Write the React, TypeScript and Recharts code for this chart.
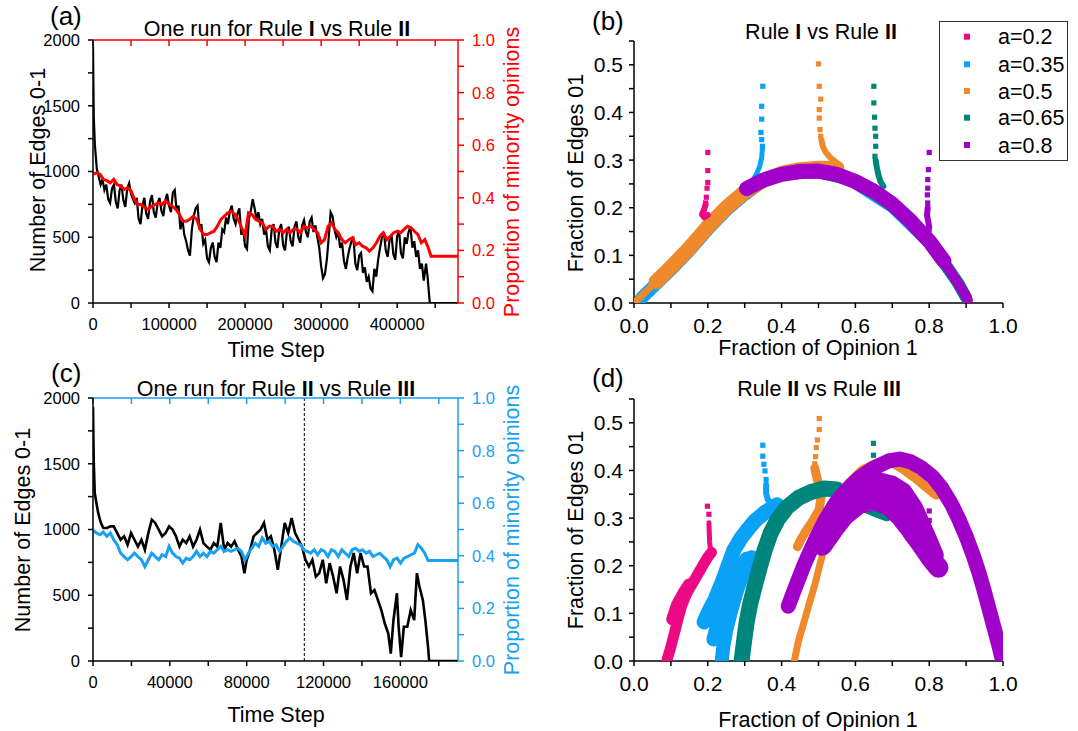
import React from 'react';
import { LineChart, Line, XAxis, YAxis, ReferenceLine, ComposedChart, Scatter } from 'recharts';

const FONT = "'Liberation Sans', Arial, Helvetica, sans-serif";
const RED = '#ff0000';
const SKY = '#18a0f2';
const PINK = '#ec0a84';
const BLUE = '#0aa2f7';
const ORANGE = '#f0892b';
const TEAL = '#00857c';
const PURPLE = '#a000c8';

type Pt = [number, number];

// ---------- (a) one run for Rule I vs Rule II ----------
// time steps in thousands
const edgeStepsA = [
  0, 1, 2.5, 5, 7.5, 10,
  12.5, 15, 17.5, 20, 22.5, 25, 27.5, 30, 32.5, 35, 37.5, 40, 42.5, 45, 47.5, 50,
  52.5, 55, 57.5, 60, 62.5, 65, 67.5, 70, 72.5, 75, 77.5, 80, 82.5, 85, 87.5, 90, 92.5, 95, 97.5, 100,
  102.5, 105, 107.5, 110, 112.5, 115, 117.5, 120, 122.5, 125, 127.5, 130, 132.5, 135, 137.5, 140, 142.5, 145, 147.5, 150,
  152.5, 155, 157.5, 160, 162.5, 165, 167.5, 170, 172.5, 175, 177.5, 180, 182.5, 185, 187.5, 190, 192.5, 195, 197.5, 200,
  202.5, 205, 207.5, 210, 212.5, 215, 217.5, 220, 222.5, 225, 227.5, 230, 232.5, 235, 237.5, 240, 242.5, 245, 247.5, 250,
  252.5, 255, 257.5, 260, 262.5, 265, 267.5, 270, 272.5, 275, 277.5, 280, 282.5, 285, 287.5, 290, 292.5, 295, 297.5, 300,
  302.5, 305, 307.5, 310, 312.5, 315, 317.5, 320, 322.5, 325, 327.5, 330, 332.5, 335, 337.5, 340, 342.5, 345, 347.5, 350,
  352.5, 355, 357.5, 360, 362.5, 365, 367.5, 370, 372.5, 375, 377.5, 380, 382.5, 385, 387.5, 390, 392.5, 395, 397.5, 400,
  402.5, 405, 407.5, 410, 412.5, 415, 417.5, 420, 422.5, 425, 427.5, 430, 432.5, 435,
  438, 440, 442, 443, 480,
];
const edgesA = [
  1950, 1420, 1200, 1020, 960, 900,
  940, 860, 900, 790, 760, 870, 900, 770, 720, 860, 900, 780, 730, 870, 910, 830,
  790, 760, 800, 640, 600, 740, 800, 680, 640, 770, 820, 690, 650, 760, 800, 700, 660, 780, 830, 740,
  690, 840, 860, 700, 740, 560, 640, 520, 470, 400, 360, 560, 660, 720, 740, 560, 600, 450, 480, 340,
  310, 420, 460, 350, 310, 460, 420, 560, 540, 650, 600, 700, 740, 640, 600, 680, 720, 520, 560, 430,
  410, 640, 700, 790, 720, 640, 690, 600, 640, 520, 560, 430, 400, 560, 600, 460, 420, 560, 600, 440,
  400, 540, 580, 470, 430, 580, 620, 500, 460, 590, 630, 540, 500, 620, 650, 540, 590, 500, 420, 280,
  190, 220, 330, 500, 690, 660, 560, 500, 540, 420, 460, 320, 260, 350, 420, 470, 490, 300, 250, 360,
  380, 230, 270, 160, 200, 110, 90, 260, 200, 330, 420, 500, 540, 400, 350, 480, 520, 370, 330, 510,
  550, 380, 340, 500, 450, 540, 580, 420, 470, 350, 400, 260, 300, 170,
  300, 200, 60, 0, 0,
];
const minoritySteps = [
  0.9, 4.5, 9.1, 13.6, 18.2, 22.7, 27.3, 31.8, 36.4, 40.9, 45.5, 50,
  54.5, 59.1, 63.6, 68.2, 72.7, 77.3, 81.8, 86.4, 90.9, 95.5, 100,
  104.5, 109.1, 113.6, 118.2, 122.7, 127.3, 131.8, 136.4, 140.9, 145.5, 150,
  154.5, 159.1, 163.6, 168.2, 172.7, 177.3, 181.8, 186.4, 190.9, 195.5, 200,
  204.5, 209.1, 213.6, 218.2, 222.7, 227.3, 231.8, 236.4, 240.9, 245.5, 250,
  254.5, 259.1, 263.6, 268.2, 272.7, 277.3, 281.8, 286.4, 290.9, 295.5, 300,
  304.5, 309.1, 313.6, 318.2, 322.7, 327.3, 331.8, 336.4, 340.9, 345.5, 350,
  354.5, 359.1, 363.6, 368.2, 372.7, 377.3, 381.8, 386.4, 390.9, 395.5, 400,
  404.5, 409.1, 413.6, 418.2, 422.7, 427.3, 431.8, 436.4, 440.9, 444.5, 480,
];
const minorityA = [
  0.49, 0.495, 0.49, 0.47, 0.465, 0.457, 0.47, 0.45, 0.445, 0.432, 0.438, 0.426,
  0.394, 0.375, 0.375, 0.362, 0.356, 0.368, 0.375, 0.381, 0.375, 0.388, 0.375,
  0.368, 0.356, 0.337, 0.311, 0.311, 0.318, 0.33, 0.318, 0.28, 0.26, 0.26,
  0.267, 0.273, 0.292, 0.318, 0.33, 0.343, 0.349, 0.337, 0.318, 0.286, 0.255,
  0.343, 0.337, 0.318, 0.311, 0.305, 0.28, 0.292, 0.292, 0.273, 0.28, 0.267,
  0.28, 0.267, 0.28, 0.28, 0.267, 0.292, 0.286, 0.292, 0.28, 0.267, 0.229,
  0.241, 0.292, 0.305, 0.28, 0.267, 0.241, 0.229, 0.241, 0.248, 0.222, 0.229,
  0.216, 0.21, 0.197, 0.21, 0.229, 0.254, 0.267, 0.241, 0.254, 0.267, 0.273,
  0.267, 0.28, 0.292, 0.286, 0.273, 0.26, 0.229, 0.241, 0.21, 0.178, 0.178,
];

// ---------- (c) one run for Rule II vs Rule III ----------
const edgeStepsC = [
  0, 0.36, 0.9, 1.8, 2.7, 3.6, 4.5, 5.4,
  7.2, 9, 10.8, 12.6, 14.4, 16.2, 18, 19.8, 21.6, 23.4, 25.2, 27, 28.8, 30.6, 32.4, 34.2,
  36, 37.8, 39.6, 41.4, 43.2, 45, 46.7, 48.5, 50.3, 52.1, 53.9, 55.7, 57.5, 59.3, 61.1,
  62.9, 64.7, 66.5, 68.3, 70.1, 71.9, 73.7, 75.5, 77.3, 78.8, 80,
  81.8, 83.6, 85.4, 87.2, 89, 90.8, 92.6, 94.4, 96.2, 98, 99.8, 101.6, 103.4, 105.2,
  107, 108.8, 110.6, 112.4, 114.2, 116, 117.8, 119.6, 121.4, 123.2, 125, 126.8, 128.6,
  130.4, 132.2, 134, 135.7, 137.5, 139.3, 141.1, 142.9, 144.7, 146.5, 148.3, 150.1,
  151.9, 153.7, 155, 156.4, 158.2, 159.1, 160.4, 161.8, 163.6, 165.4, 167.2, 168.6,
  169.9, 171.7, 173, 174.4, 175, 190,
];
const edgesC = [
  1930, 1534, 1280, 1200, 1126, 1075, 1037, 1011,
  1011, 1024, 1024, 973, 922, 948, 884, 973, 922, 870, 922, 846, 973, 1075, 1050, 999,
  948, 973, 1024, 999, 948, 870, 922, 897, 948, 870, 922, 999, 897, 870, 846,
  897, 870, 1050, 846, 897, 870, 910, 846, 795, 668, 770,
  846, 948, 973, 999, 1050, 922, 948, 846, 693, 870, 1050, 973, 1088, 973,
  922, 870, 770, 719, 770, 642, 668, 770, 591, 744, 642, 515, 719,
  617, 464, 719, 821, 668, 821, 719, 719, 515, 540, 464, 387,
  285, 209, 56, 311, 515, 260, 30, 260, 260, 387, 311, 668,
  566, 464, 311, 107, 0, 0,
];
const minorityStepsC = [
  0, 1.8, 3.6, 5.4, 7.2, 9, 10.8, 12.6, 14.4, 16.2, 18, 19.8, 21.6, 23.4, 25.2, 27,
  28.8, 30.6, 32.4, 34.2, 36, 37.8, 39.6, 41.4, 43.2, 45, 46.7, 48.5, 50.3, 52.1, 53.9,
  55.7, 57.5, 59.3, 61.1, 62.9, 64.7, 66.5, 68.3, 70.1, 71.9, 73.7, 75.5, 77.3, 79.1,
  80.9, 82.7, 84.5, 86.3, 88.1, 89.9, 91.7, 93.5, 95.3, 97.1, 98.9, 100.7, 102.5, 104.3,
  106.1, 107.9, 109.7, 111.5, 113.3, 115.1, 116.9, 118.7, 120.5, 122.3, 124.1, 125.9,
  127.7, 129.5, 131.3, 133.1, 134.9, 136.7, 138.5, 140.3, 142.1, 143.9, 145.7, 147.5,
  149.3, 151.1, 152.9, 154.7, 156.5, 158.3, 160.1, 161.9, 163.7, 165.5, 167.3, 169.1,
  170.9, 172.7, 174.4, 190,
];
const minorityC = [
  0.497, 0.487, 0.48, 0.49, 0.474, 0.487, 0.461, 0.442, 0.41, 0.397, 0.385, 0.397, 0.41, 0.397, 0.385, 0.359,
  0.385, 0.41, 0.397, 0.385, 0.404, 0.397, 0.436, 0.41, 0.397, 0.391, 0.372, 0.391, 0.385, 0.397, 0.417,
  0.397, 0.41, 0.397, 0.417, 0.41, 0.423, 0.436, 0.417, 0.423, 0.417, 0.423, 0.429, 0.417, 0.385,
  0.41, 0.429, 0.448, 0.436, 0.468, 0.448, 0.455, 0.436, 0.442, 0.417, 0.436, 0.455, 0.468, 0.455,
  0.448, 0.442, 0.423, 0.417, 0.41, 0.423, 0.404, 0.423, 0.417, 0.397, 0.423, 0.417,
  0.397, 0.423, 0.41, 0.397, 0.423, 0.429, 0.417, 0.423, 0.41, 0.417, 0.397, 0.404,
  0.41, 0.397, 0.385, 0.359, 0.385, 0.391, 0.372, 0.391, 0.397, 0.404, 0.41, 0.442,
  0.429, 0.41, 0.382, 0.382,
];

// ---------- (b) Rule I vs Rule II ----------
const bPinkBand: Pt[] = [[0.02, 0.012], [0.1, 0.072], [0.18, 0.138], [0.2, 0.155]];
const bPinkBlob: Pt[] = [[0.194, 0.207], [0.19, 0.196], [0.184, 0.186], [0.19, 0.18], [0.2, 0.185]];
const bPinkTail: Pt[] = [[0.2, 0.316], [0.2, 0.278], [0.2, 0.253], [0.198, 0.241], [0.196, 0.222], [0.194, 0.21]];
const bBlueBand: Pt[] = [[0.02, 0.01], [0.06, 0.04], [0.1, 0.07], [0.15, 0.11], [0.2, 0.155], [0.25, 0.195], [0.3, 0.228], [0.33, 0.245]];
const bBlueRight: Pt[] = [[0.6, 0.25], [0.7, 0.2], [0.8, 0.125], [0.87, 0.05], [0.9, 0.01]];
const bBlueNeck: Pt[] = [[0.348, 0.325], [0.346, 0.305], [0.341, 0.288], [0.333, 0.272], [0.325, 0.262]];
const bBlueTail: Pt[] = [[0.349, 0.455], [0.346, 0.413], [0.346, 0.386], [0.344, 0.358], [0.346, 0.343], [0.348, 0.329]];
const bOrangeLow: Pt[] = [[0.003, 0.002], [0.03, 0.022], [0.07, 0.052]];
const bOrangeBand: Pt[] = [
  [0.06, 0.045], [0.1, 0.075], [0.15, 0.115], [0.2, 0.16], [0.25, 0.2], [0.3, 0.233],
  [0.35, 0.257], [0.4, 0.272], [0.45, 0.28], [0.5, 0.283], [0.55, 0.283],
];
const bOrangeNeck: Pt[] = [[0.508, 0.342], [0.512, 0.328], [0.52, 0.316], [0.535, 0.303], [0.55, 0.294], [0.56, 0.288]];
const bOrangeTail: Pt[] = [[0.5, 0.502], [0.502, 0.455], [0.506, 0.428], [0.502, 0.406], [0.502, 0.388], [0.504, 0.364], [0.506, 0.35]];
const bTealBand: Pt[] = [
  [0.42, 0.272], [0.5, 0.274], [0.58, 0.26], [0.65, 0.231], [0.7, 0.204], [0.75, 0.168],
  [0.8, 0.127], [0.85, 0.074], [0.88, 0.04], [0.9, 0.012],
];
const bTealNeck: Pt[] = [[0.655, 0.3], [0.658, 0.285], [0.662, 0.27], [0.668, 0.255], [0.676, 0.245]];
const bTealTail: Pt[] = [[0.65, 0.455], [0.65, 0.42], [0.652, 0.39], [0.653, 0.367], [0.655, 0.35], [0.655, 0.329], [0.653, 0.308]];
const bPurpleBand: Pt[] = [
  [0.305, 0.24], [0.35, 0.258], [0.4, 0.27], [0.45, 0.276], [0.5, 0.277], [0.55, 0.27],
  [0.6, 0.255], [0.65, 0.235], [0.7, 0.208], [0.75, 0.172], [0.8, 0.13], [0.84, 0.088],
];
const bPurpleEnd: Pt[] = [[0.82, 0.108], [0.85, 0.074], [0.875, 0.045], [0.895, 0.02], [0.905, 0.006]];
const bPurpleNeck: Pt[] = [[0.796, 0.2], [0.794, 0.185], [0.797, 0.172], [0.8, 0.16], [0.798, 0.148]];
const bPurpleTail: Pt[] = [[0.8, 0.316], [0.798, 0.28], [0.796, 0.259], [0.796, 0.241], [0.795, 0.227], [0.796, 0.21]];

// ---------- (d) Rule II vs Rule III ----------
const dPinkBand: Pt[] = [
  [0.09, 0.004], [0.1, 0.03], [0.11, 0.06], [0.12, 0.09], [0.13, 0.118], [0.145, 0.145],
  [0.16, 0.165], [0.175, 0.185], [0.19, 0.205], [0.2, 0.218], [0.21, 0.228],
];
const dPinkBlob: Pt[] = [[0.105, 0.088], [0.118, 0.118], [0.135, 0.142], [0.15, 0.16]];
const dPinkNeck: Pt[] = [[0.203, 0.29], [0.204, 0.27], [0.205, 0.25], [0.207, 0.235]];
const dPinkTail: Pt[] = [[0.199, 0.325], [0.203, 0.308]];
const dBlueUpper: Pt[] = [
  [0.19, 0.082], [0.2, 0.1], [0.22, 0.13], [0.24, 0.168], [0.255, 0.2], [0.27, 0.232],
  [0.29, 0.258], [0.31, 0.278], [0.33, 0.296], [0.355, 0.312], [0.375, 0.322], [0.388, 0.328],
];
const dBlueMiddle: Pt[] = [[0.215, 0.045], [0.23, 0.09], [0.25, 0.13], [0.27, 0.17], [0.29, 0.2], [0.305, 0.215]];
const dBlueLower: Pt[] = [[0.238, 0.003], [0.242, 0.03], [0.25, 0.065], [0.263, 0.105], [0.278, 0.145], [0.294, 0.18], [0.31, 0.205], [0.32, 0.218]];
const dBlueNeck: Pt[] = [[0.358, 0.37], [0.358, 0.352], [0.362, 0.34], [0.37, 0.332]];
const dBlueTail: Pt[] = [[0.349, 0.453], [0.349, 0.43], [0.352, 0.413], [0.355, 0.399], [0.358, 0.381]];
const dOrangeLow: Pt[] = [
  [0.435, 0.002], [0.445, 0.04], [0.46, 0.08], [0.475, 0.12], [0.49, 0.16], [0.503, 0.2],
  [0.517, 0.24], [0.532, 0.278], [0.548, 0.315], [0.565, 0.345],
];
const dOrangeArc: Pt[] = [
  [0.555, 0.33], [0.58, 0.372], [0.62, 0.402], [0.66, 0.416], [0.7, 0.416], [0.73, 0.402],
  [0.76, 0.385], [0.79, 0.366], [0.81, 0.353], [0.82, 0.348],
];
const dOrangeNeck: Pt[] = [
  [0.49, 0.405], [0.494, 0.39], [0.5, 0.372], [0.508, 0.35], [0.502, 0.318], [0.485, 0.295],
  [0.465, 0.272], [0.45, 0.252], [0.443, 0.24],
];
const dOrangeTail: Pt[] = [[0.502, 0.509], [0.502, 0.486], [0.497, 0.464], [0.494, 0.448], [0.492, 0.429], [0.49, 0.414]];
const dTealBand: Pt[] = [
  [0.292, 0.003], [0.298, 0.04], [0.305, 0.08], [0.315, 0.12], [0.328, 0.16], [0.342, 0.2],
  [0.355, 0.235], [0.37, 0.268], [0.39, 0.298], [0.415, 0.323], [0.445, 0.342], [0.48, 0.355],
  [0.515, 0.362], [0.55, 0.36],
];
const dTealUnder: Pt[] = [[0.55, 0.355], [0.6, 0.335], [0.63, 0.322], [0.66, 0.312], [0.685, 0.305]];
const dTealTail: Pt[] = [[0.649, 0.457], [0.649, 0.432]];
const dPurpleOuter: Pt[] = [
  [0.418, 0.115], [0.43, 0.14], [0.445, 0.17], [0.46, 0.2], [0.48, 0.235], [0.5, 0.268],
  [0.52, 0.298], [0.545, 0.33], [0.575, 0.358], [0.61, 0.384], [0.65, 0.405], [0.69, 0.42],
  [0.72, 0.424], [0.75, 0.418], [0.78, 0.405], [0.81, 0.386], [0.835, 0.362], [0.86, 0.33],
  [0.88, 0.298], [0.9, 0.262], [0.92, 0.22], [0.935, 0.185], [0.948, 0.15], [0.962, 0.11],
  [0.975, 0.072], [0.988, 0.035], [0.998, 0.004],
];
const dPurpleFill: Pt[] = [[0.5, 0.255], [0.53, 0.29], [0.57, 0.33], [0.62, 0.355], [0.68, 0.352], [0.72, 0.335]];
const dPurpleInnerA: Pt[] = [
  [0.56, 0.34], [0.6, 0.37], [0.65, 0.38], [0.7, 0.37], [0.73, 0.355], [0.76, 0.32],
  [0.78, 0.285], [0.8, 0.25], [0.815, 0.222],
];
const dPurpleInnerB: Pt[] = [
  [0.51, 0.242], [0.54, 0.275], [0.57, 0.305], [0.61, 0.33], [0.65, 0.338], [0.69, 0.326],
  [0.72, 0.305], [0.75, 0.275], [0.78, 0.243], [0.805, 0.215], [0.825, 0.196],
];
const dPurpleTail: Pt[] = [[0.8, 0.315], [0.8, 0.295], [0.8, 0.276]];

const legendLabels = ['a=0.2', 'a=0.35', 'a=0.5', 'a=0.65', 'a=0.8'];
const legendColors = [PINK, BLUE, ORANGE, TEAL, PURPLE];

const edgeTicks = [0, 250, 500, 750, 1000, 1250, 1500, 1750, 2000];
const propTicks = [0, 0.1, 0.2, 0.3, 0.4, 0.5, 0.6, 0.7, 0.8, 0.9, 1.0];
const timeTicksA = [0, 50000, 100000, 150000, 200000, 250000, 300000, 350000, 400000, 450000];
const timeTicksC = [0, 20000, 40000, 60000, 80000, 100000, 120000, 140000, 160000, 180000];
const fracTicks = [0, 0.1, 0.2, 0.3, 0.4, 0.5, 0.6, 0.7, 0.8, 0.9, 1.0];
const edgeFracTicks = [0, 0.05, 0.1, 0.15, 0.2, 0.25, 0.3, 0.35, 0.4, 0.45, 0.5, 0.55];

const rows = (steps: number[], values: number[]) =>
  steps.slice(0, values.length).map((t, i) => ({ t: t * 1000, v: values[i] }));
const xy = (pts: Pt[]) => pts.map(([x, y]) => ({ x, y }));
const isMultiple = (v: number, step: number) => Math.abs(v / step - Math.round(v / step)) < 1e-6;

function tickRenderer(step: number, fmt: (v: number) => string, color: string, size: number, side: 'left' | 'right' | 'bottom') {
  return (props: any) => {
    const { x, y, payload } = props;
    if (!isMultiple(payload.value, step)) return <g />;
    const anchor = side === 'left' ? 'end' : side === 'right' ? 'start' : 'middle';
    return (
      <text x={x} y={y} dy={side === 'bottom' ? '0.71em' : '0.36em'} textAnchor={anchor} fill={color} fontSize={size} fontFamily={FONT}>
        {fmt(payload.value)}
      </text>
    );
  };
}
const noLabel = () => <g />;
const axisStyle = (c: string) => ({ stroke: c, strokeWidth: 1.5 });

interface TimePanelProps {
  edges: { t: number; v: number }[];
  minority: { t: number; v: number }[];
  xMax: number;
  xTicks: number[];
  xMajor: number;
  accent: string;
  edgeWidth: number;
  dashedAt?: number;
}

function TimePanel({ edges, minority, xMax, xTicks, xMajor, accent, edgeWidth, dashedAt }: TimePanelProps) {
  return (
    <LineChart width={540} height={370} margin={{ top: 40, right: 0, bottom: 0, left: 0 }}>
      <XAxis xAxisId="b" type="number" dataKey="t" domain={[0, xMax]} ticks={xTicks} interval={0} allowDataOverflow
        height={67} tickSize={5} tickMargin={10} axisLine={axisStyle('#000')} tickLine={axisStyle('#000')}
        tick={tickRenderer(xMajor, (v) => String(v), '#000', 16.5, 'bottom')} />
      <XAxis xAxisId="t" orientation="top" mirror type="number" dataKey="t" domain={[0, xMax]} ticks={xTicks} interval={0}
        allowDataOverflow height={1} tickSize={6} axisLine={axisStyle(accent)} tickLine={axisStyle(accent)} tick={noLabel} />
      <YAxis yAxisId="l" type="number" domain={[0, 2000]} ticks={edgeTicks} interval={0} allowDataOverflow width={93}
        tickSize={5} tickMargin={8} axisLine={axisStyle('#000')} tickLine={axisStyle('#000')}
        tick={tickRenderer(500, (v) => String(v), '#000', 16.5, 'left')} />
      <YAxis yAxisId="r" orientation="right" type="number" domain={[0, 1]} ticks={propTicks} interval={0} allowDataOverflow
        width={82} tickSize={6} tickMargin={8} axisLine={axisStyle(accent)} tickLine={axisStyle(accent)}
        tick={tickRenderer(0.2, (v) => v.toFixed(1), accent, 16.5, 'right')} />
      {dashedAt !== undefined && (
        <ReferenceLine xAxisId="b" yAxisId="l" x={dashedAt} stroke="#000" strokeWidth={1} strokeDasharray="3 2" />
      )}
      <Line xAxisId="b" yAxisId="l" data={edges} dataKey="v" type="linear" stroke="#000" strokeWidth={edgeWidth}
        dot={false} isAnimationActive={false} />
      <Line xAxisId="t" yAxisId="r" data={minority} dataKey="v" type="linear" stroke={accent} strokeWidth={3}
        dot={false} isAnimationActive={false} />
    </LineChart>
  );
}

type ScatterLayer = { pts: Pt[]; color: string; width?: number };

function ScatterPanel({ layers }: { layers: ScatterLayer[] }) {
  return (
    <ComposedChart width={540} height={370} margin={{ top: 41, right: 77, bottom: 0, left: 0 }}>
      <XAxis type="number" dataKey="x" domain={[0, 1]} ticks={fracTicks} interval={0} allowDataOverflow height={67}
        tickSize={5} tickMargin={10} axisLine={axisStyle('#000')} tickLine={axisStyle('#000')}
        tick={tickRenderer(0.2, (v) => v.toFixed(1), '#000', 21, 'bottom')} />
      <YAxis type="number" dataKey="y" domain={[0, 0.55]} ticks={edgeFracTicks} interval={0} allowDataOverflow width={94}
        tickSize={5} tickMargin={6} axisLine={axisStyle('#000')} tickLine={axisStyle('#000')}
        tick={tickRenderer(0.1, (v) => v.toFixed(1), '#000', 21, 'left')} />
      {layers.map((l, i) =>
        l.width ? (
          <Scatter key={i} data={xy(l.pts)} fill={l.color} isAnimationActive={false}
            line={{ stroke: l.color, strokeWidth: l.width, strokeLinecap: 'round', strokeLinejoin: 'round' }}
            shape={() => <g />} />
        ) : (
          <Scatter key={i} data={xy(l.pts)} fill={l.color} isAnimationActive={false}
            shape={(p: any) => <rect x={p.cx - 2.6} y={p.cy - 2.6} width={5.2} height={5.2} fill={l.color} />} />
        ),
      )}
    </ComposedChart>
  );
}

const layersB: ScatterLayer[] = [
  { pts: bPinkBand, color: PINK, width: 8 },
  { pts: bBlueBand, color: BLUE, width: 13 },
  { pts: bBlueRight, color: BLUE, width: 11 },
  { pts: bOrangeLow, color: ORANGE, width: 7 },
  { pts: bOrangeBand, color: ORANGE, width: 15 },
  { pts: bPinkBlob, color: PINK, width: 6 },
  { pts: bPinkTail, color: PINK },
  { pts: bBlueNeck, color: BLUE, width: 5 },
  { pts: bBlueTail, color: BLUE },
  { pts: bOrangeNeck, color: ORANGE, width: 6 },
  { pts: bOrangeTail, color: ORANGE },
  { pts: bTealBand, color: TEAL, width: 12 },
  { pts: bTealNeck, color: TEAL, width: 6 },
  { pts: bTealTail, color: TEAL },
  { pts: bPurpleBand, color: PURPLE, width: 15 },
  { pts: bPurpleEnd, color: PURPLE, width: 10 },
  { pts: bPurpleNeck, color: PURPLE, width: 6 },
  { pts: bPurpleTail, color: PURPLE },
];

const layersD: ScatterLayer[] = [
  { pts: dPinkBand, color: PINK, width: 11 },
  { pts: dPinkBlob, color: PINK, width: 13 },
  { pts: dPinkNeck, color: PINK, width: 5 },
  { pts: dPinkTail, color: PINK },
  { pts: dBlueUpper, color: BLUE, width: 15 },
  { pts: dBlueMiddle, color: BLUE, width: 14 },
  { pts: dBlueLower, color: BLUE, width: 14 },
  { pts: dBlueNeck, color: BLUE, width: 6 },
  { pts: dBlueTail, color: BLUE },
  { pts: dOrangeLow, color: ORANGE, width: 7 },
  { pts: dOrangeArc, color: ORANGE, width: 9 },
  { pts: dOrangeNeck, color: ORANGE, width: 9 },
  { pts: dOrangeTail, color: ORANGE },
  { pts: dTealBand, color: TEAL, width: 16 },
  { pts: dTealUnder, color: TEAL, width: 11 },
  { pts: dTealTail, color: TEAL },
  { pts: dPurpleOuter, color: PURPLE, width: 15 },
  { pts: dPurpleFill, color: PURPLE, width: 20 },
  { pts: dPurpleInnerA, color: PURPLE, width: 18 },
  { pts: dPurpleInnerB, color: PURPLE, width: 20 },
  { pts: dPurpleTail, color: PURPLE },
];

function Title({ x, y, parts }: { x: number; y: number; parts: [string, boolean][] }) {
  return (
    <text x={x} y={y} textAnchor="middle" fontSize={21.5} fontFamily={FONT}>
      {parts.map(([s, b], i) => (
        <tspan key={i} fontWeight={b ? 'bold' : 'normal'}>{s}</tspan>
      ))}
    </text>
  );
}

function VText({ x, y, text, color = '#000' }: { x: number; y: number; text: string; color?: string }) {
  return (
    <text transform={`translate(${x},${y}) rotate(-90)`} textAnchor="middle" fontSize={21.5} fontFamily={FONT} fill={color}>
      {text}
    </text>
  );
}

export default function App() {
  const legendRows = [36.7, 64.3, 91, 117.7, 145];
  return (
    <div style={{ position: 'absolute', left: 0, top: 0, width: 1078, height: 731, background: '#fff', fontFamily: FONT }}>
      <div style={{ position: 'absolute', left: 0, top: 0 }}>
        <TimePanel edges={rows(edgeStepsA, edgesA)} minority={rows(minoritySteps, minorityA)} xMax={480000}
          xTicks={timeTicksA} xMajor={100000} accent={RED} edgeWidth={2.2} />
      </div>
      <div style={{ position: 'absolute', left: 540, top: 0 }}>
        <ScatterPanel layers={layersB} />
      </div>
      <div style={{ position: 'absolute', left: 0, top: 358 }}>
        <TimePanel edges={rows(edgeStepsC, edgesC)} minority={rows(minorityStepsC, minorityC)} xMax={190000}
          xTicks={timeTicksC} xMajor={40000} accent={SKY} edgeWidth={2.6} dashedAt={110000} />
      </div>
      <div style={{ position: 'absolute', left: 540, top: 358 }}>
        <ScatterPanel layers={layersD} />
      </div>
      <svg width={1078} height={731} style={{ position: 'absolute', left: 0, top: 0, pointerEvents: 'none' }}>
        <text x={50} y={25} fontSize={26} fontFamily={FONT}>(a)</text>
        <text x={592} y={30} fontSize={26} fontFamily={FONT}>(b)</text>
        <text x={51} y={382} fontSize={26} fontFamily={FONT}>(c)</text>
        <text x={592} y={387} fontSize={26} fontFamily={FONT}>(d)</text>
        <Title x={277} y={36} parts={[['One run for Rule ', false], ['I', true], [' vs Rule ', false], ['II', true]]} />
        <Title x={821} y={39} parts={[['Rule ', false], ['I', true], [' vs Rule ', false], ['II', true]]} />
        <Title x={276} y={396} parts={[['One run for Rule ', false], ['II', true], [' vs Rule ', false], ['III', true]]} />
        <Title x={819} y={396} parts={[['Rule ', false], ['II', true], [' vs Rule ', false], ['III', true]]} />
        <text x={276} y={357} textAnchor="middle" fontSize={21.5} fontFamily={FONT}>Time Step</text>
        <text x={276} y={722} textAnchor="middle" fontSize={21.5} fontFamily={FONT}>Time Step</text>
        <text x={818} y={355} textAnchor="middle" fontSize={21.5} fontFamily={FONT}>Fraction of Opinion 1</text>
        <text x={818} y={727} textAnchor="middle" fontSize={21.5} fontFamily={FONT}>Fraction of Opinion 1</text>
        <VText x={44.5} y={170} text="Number of Edges 0-1" />
        <VText x={29.5} y={530} text="Number of Edges 0-1" />
        <VText x={519} y={172} text="Proportion of minority opinions" color={RED} />
        <VText x={519} y={530} text="Proportion of minority opinions" color={SKY} />
        <VText x={583} y={173} text="Fraction of Edges 01" />
        <VText x={582.5} y={530} text="Fraction of Edges 01" />
        <rect x={939.5} y={21.5} width={128} height={139} fill="#fff" stroke="#333" strokeWidth={1} />
        {legendLabels.map((label, i) => (
          <g key={label}>
            <rect x={964} y={legendRows[i] - 3} width={6} height={6} fill={legendColors[i]} />
            <text x={998} y={legendRows[i] + 7.6} fontSize={21.5} fontFamily={FONT}>{label}</text>
          </g>
        ))}
      </svg>
    </div>
  );
}
